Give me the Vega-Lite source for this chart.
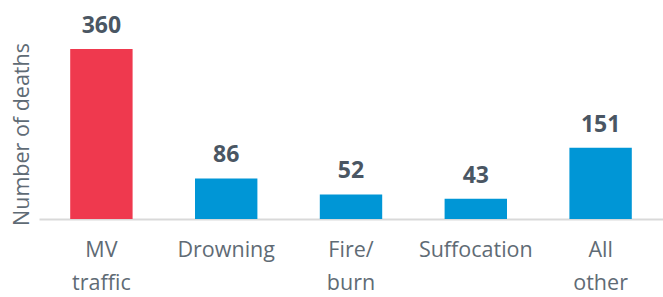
{
  "$schema": "https://vega.github.io/schema/vega-lite/v6.json",
  "width": 624,
  "height": 170,
  "autosize": "none",
  "padding": {"left": 39, "top": 49, "right": 0, "bottom": 78},
  "background": "white",
  "config": {"view": {"stroke": null}, "font": "Open Sans"},
  "data": {"values": [
    {"cause": "MV|traffic", "deaths": 360, "highlight": "yes"},
    {"cause": "Drowning", "deaths": 86, "highlight": "no"},
    {"cause": "Fire/|burn", "deaths": 52, "highlight": "no"},
    {"cause": "Suffocation", "deaths": 43, "highlight": "no"},
    {"cause": "All|other", "deaths": 151, "highlight": "no"}
  ]},
  "encoding": {
    "x": {"field": "cause", "type": "nominal", "sort": null,
      "scale": {"paddingInner": 0.5, "paddingOuter": 0.25},
      "axis": {"title": null, "labelAngle": 0, "ticks": false, "domainColor": "#d9d9d9", "domainWidth": 2,
        "labelExpr": "split(datum.label, '|')", "labelFontSize": 21.5, "labelColor": "#5f6b75",
        "labelPadding": 20, "labelLineHeight": 33, "labelFont": "Open Sans"}},
    "y": {"field": "deaths", "type": "quantitative", "scale": {"domain": [0, 360]},
      "axis": {"title": "Number of deaths", "labels": false, "ticks": false, "domain": false, "grid": false,
        "titleFontSize": 21.5, "titleFontWeight": "normal", "titleColor": "#5f6b75", "titlePadding": 6, "titleFont": "Open Sans"}}
  },
  "layer": [
    {"mark": {"type": "bar"},
     "encoding": {"color": {"field": "highlight", "type": "nominal", "scale": {"domain": ["yes", "no"], "range": ["#ef394e", "#0096d6"]}, "legend": null}}},
    {"mark": {"type": "text", "baseline": "alphabetic", "dy": -16, "fontSize": 23, "fontWeight": "bold", "color": "#4a5663", "font": "Open Sans"},
     "encoding": {"text": {"field": "deaths", "type": "quantitative"}}}
  ]
}
